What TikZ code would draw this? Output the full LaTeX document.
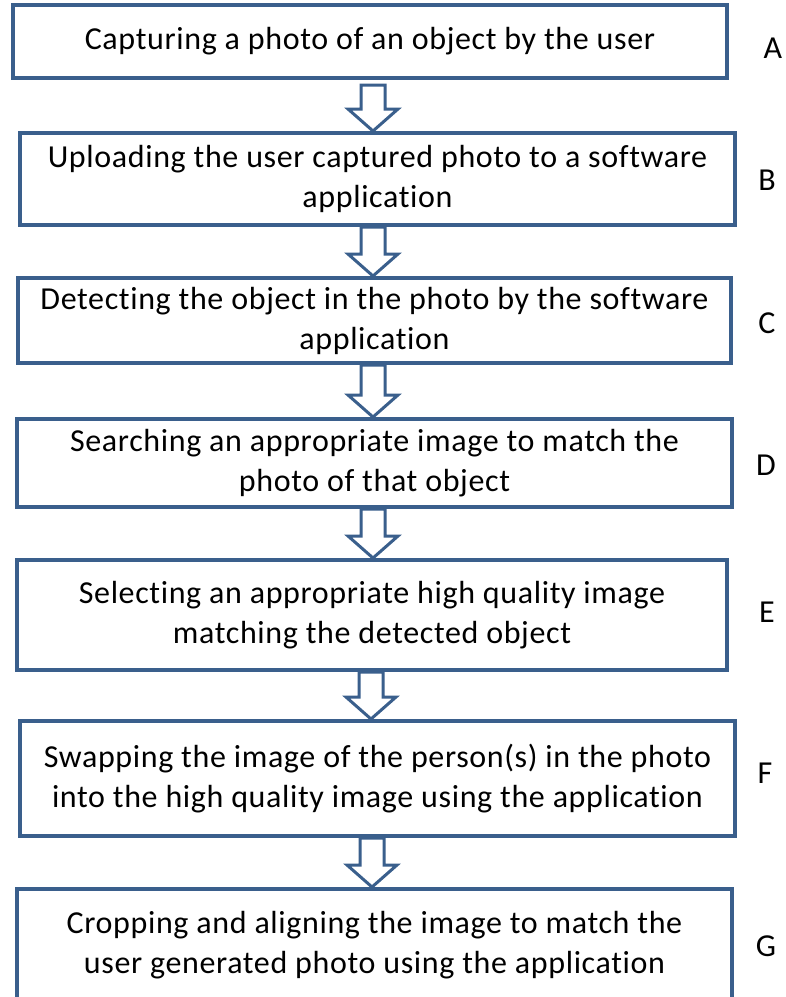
\documentclass[tikz,border=0pt]{standalone}
\usepackage{fontspec}
\setmainfont[Ligatures={NoCommon},LetterSpace=2]{Carlito}
\usetikzlibrary{calc}
\definecolor{outl}{RGB}{58,95,140}
\tikzset{
  stepbox/.style={draw=outl, line width=4pt, fill=white, align=center, inner sep=0pt, font=\fontsize{32}{40}\selectfont},
  steplabel/.style={font=\fontsize{32}{40}\selectfont, inner sep=0pt},
  barrow/.style={draw=outl, line width=3pt, fill=white, line join=miter}
}
\newcommand\blockarrow[4]{%
  \path (#3,0 |- #1.south) coordinate (s) (#3,0 |- #2.north) coordinate (t);
  \draw[barrow] ($(s)+(-12,#4)$) -- ($(t)+(-12,-22)$) -- ($(t)+(-25,-22)$) -- (t)
    -- ($(t)+(25,-22)$) -- ($(t)+(12,-22)$) -- ($(s)+(12,#4)$) -- cycle;
}
\begin{document}
\begin{tikzpicture}[x=1pt,y=-1pt]
\useasboundingbox[fill=white] (0,0) rectangle (786,997);
\node[stepbox, minimum width=714pt, minimum height=73pt] (A) at (370,41.5) {Capturing a photo of an object by the user};
\node[stepbox, minimum width=715pt, minimum height=92pt] (B) at (377.5,179) {Uploading the user captured photo to a software\\application};
\node[stepbox, minimum width=713pt, minimum height=85pt] (C) at (374.5,320.5) {Detecting the object in the photo by the software\\application};
\node[stepbox, minimum width=715pt, minimum height=88pt] (D) at (374.5,463) {Searching an appropriate image to match the\\photo of that object};
\node[stepbox, minimum width=710pt, minimum height=110pt] (E) at (372,615) {Selecting an appropriate high quality image\\matching the detected object};
\node[stepbox, minimum width=715pt, minimum height=115pt] (F) at (377.5,778.5) {Swapping the image of the person(s) in the photo\\into the high quality image using the application};
\node[stepbox, minimum width=715pt, minimum height=112pt] (G) at (374.5,945) {Cropping and aligning the image to match the\\user generated photo using the application};
\node[steplabel] (lA) at (773,48) {A};
\node[steplabel] (lB) at (767,180) {B};
\node[steplabel] (lC) at (767,323) {C};
\node[steplabel] (lD) at (766,465) {D};
\node[steplabel] (lE) at (767,612) {E};
\node[steplabel] (lF) at (765,773) {F};
\node[steplabel] (lG) at (766,946) {G};
\blockarrow{A}{B}{373}{5}
\blockarrow{B}{C}{373}{0}
\blockarrow{C}{D}{373}{0}
\blockarrow{D}{E}{373}{0}
\blockarrow{E}{F}{371}{0}
\blockarrow{F}{G}{372}{0}
\end{tikzpicture}
\end{document}
